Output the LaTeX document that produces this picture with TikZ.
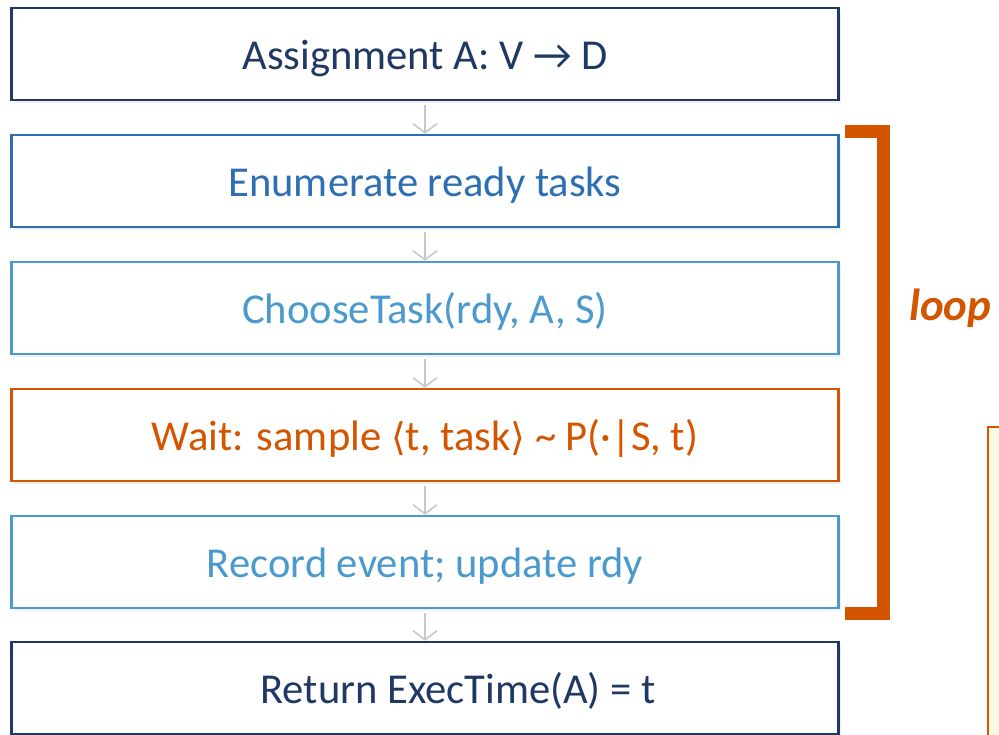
\documentclass[tikz,border=0pt]{standalone}
\usepackage{fontspec}
\setmainfont{Carlito}
\newfontfamily\symfont{DejaVu Sans}
\usetikzlibrary{arrows.meta,shadows}
\definecolor{navy}{HTML}{203864}
\definecolor{midblue}{HTML}{2E6FB4}
\definecolor{lightblue}{HTML}{4B9ACD}
\definecolor{burnt}{HTML}{D45500}
\definecolor{cream}{HTML}{FEF6E4}
\definecolor{arrowgray}{HTML}{C8C8C8}
\begin{document}
\begin{tikzpicture}[x=1pt,y=-1pt,
  stepbox/.style={draw=#1, text=#1, line width=2.6pt, fill=white,
    minimum width=827pt, minimum height=92pt, inner sep=0pt,
    text height=30.4pt, text depth=0pt,
    font=\fontsize{42.6}{50}\selectfont,
    drop shadow={opacity=0.12, shadow xshift=2pt, shadow yshift=-3pt}},
  flow/.style={draw=arrowgray, line width=1.6pt,
    -{Straight Barb[length=9pt,width=24pt,line width=1.6pt]}},
  bracket/.style={draw=burnt, line width=13pt, miter limit=10}]
\useasboundingbox (0,0) rectangle (999,735);
% partial note box at right edge
\path[draw=burnt, line width=2.4pt, fill=cream] (988,427) rectangle (1030,760);
\node[stepbox=navy] (b1) at (425,54) {Assignment A: V \char"2192\ D};
\node[stepbox=midblue] (b2) at (425,181) {Enumerate ready tasks};
\node[stepbox=lightblue] (b3) at (425,308) {ChooseTask(rdy, A, S)};
\node[stepbox=burnt] (b4) at (425,435) {Wait: sample {\symfont\fontsize{38}{46}\selectfont\char"27E8}t, task{\symfont\fontsize{38}{46}\selectfont\char"27E9} \char"007E\ P(\char"00B7|S, t)};
\node[stepbox=lightblue] (b5) at (425,562) {Record event; update rdy};
\node[stepbox=navy] (b6) at (425,688) {\hspace*{66pt}Return ExecTime(A) = t};
\foreach \a/\b in {b1/b2,b2/b3,b3/b4,b4/b5,b5/b6}
  \draw[flow] ([yshift=-4pt]\a.south) -- (\b.north);
\coordinate (bt) at (845,132);
\coordinate (bc) at (883,132);
\coordinate (bd) at (883,613);
\coordinate (bb) at (845,613);
\draw[bracket] (bt) -- (bc) -- (bd) -- (bb);
\node[text=burnt, font=\fontsize{45}{52}\selectfont\bfseries\itshape, anchor=base west, inner sep=0pt] (loop) at (909,321) {loop};
\end{tikzpicture}
\end{document}
